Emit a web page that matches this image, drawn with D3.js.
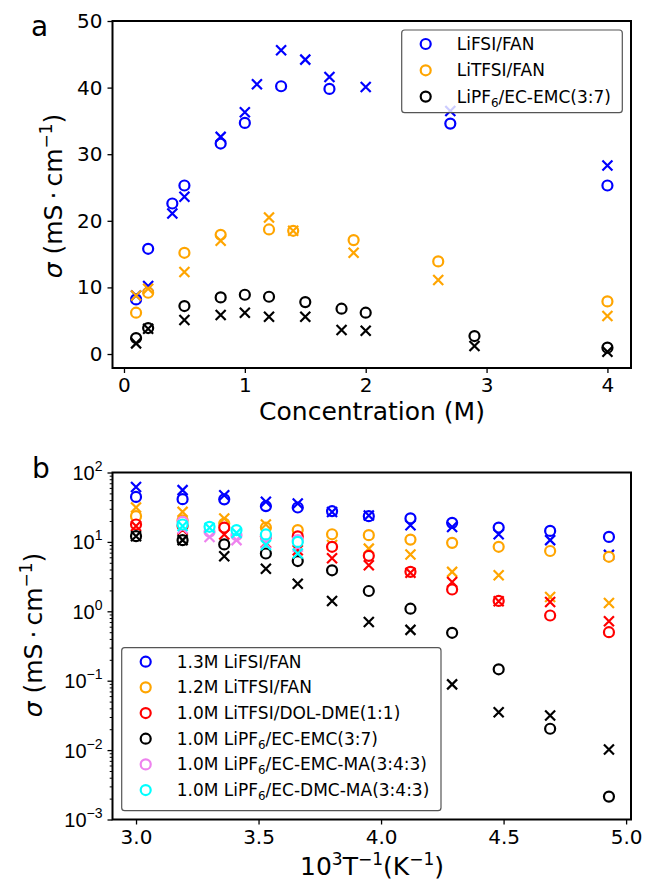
<!DOCTYPE html>
<html>
<head>
<meta charset="utf-8">
<script src="https://cdn.jsdelivr.net/npm/d3@7"></script>
<style>
  body { margin: 0; background: #fff; }
  svg { font-family: "DejaVu Sans", sans-serif; }
</style>
</head>
<body>
<svg id="chart" width="646" height="883"></svg>
<script>
// ---- panel a: conductivity vs concentration ----
const lifsiCircX = [0.1, 0.2, 0.4, 0.5, 0.8, 1.0, 1.3, 1.7, 2.7, 4.0];
const lifsiCircY = [8.2, 15.8, 22.6, 25.3, 31.6, 34.7, 40.2, 39.8, 34.6, 25.3];
const lifsiCrossX = [0.1, 0.2, 0.4, 0.5, 0.8, 1.0, 1.1, 1.3, 1.5, 1.7, 2.0, 2.7, 4.0];
const lifsiCrossY = [8.8, 10.2, 21.1, 23.6, 32.6, 36.3, 40.5, 45.6, 44.2, 41.6, 40.1, 36.5, 28.3];

const litfsiX = [0.1, 0.2, 0.5, 0.8, 1.2, 1.4, 1.9, 2.6, 4.0];
const litfsiCircY = [6.2, 9.2, 15.2, 17.9, 18.7, 18.5, 17.1, 13.9, 7.9];
const litfsiCrossY = [8.8, 9.8, 12.3, 17.0, 20.5, 18.5, 15.2, 11.1, 5.7];

const lipf6X = [0.1, 0.2, 0.5, 0.8, 1.0, 1.2, 1.5, 1.8, 2.0, 2.9, 4.0];
const lipf6CircY = [2.4, 3.9, 7.2, 8.5, 8.9, 8.6, 7.8, 6.8, 6.2, 2.7, 0.95];
const lipf6CrossY = [1.6, 3.8, 5.1, 5.85, 6.2, 5.6, 5.6, 3.6, 3.5, 1.2, 0.35];

const concTicks = [0, 1, 2, 3, 4];
const sigmaTicks = [0, 10, 20, 30, 40, 50];

// ---- panel b: conductivity vs inverse temperature ----
const invT = [3.00, 3.19, 3.36, 3.53, 3.66, 3.80, 3.95, 4.12, 4.29, 4.48, 4.69, 4.93];
const fanLifsiCirc = [44.5, 41.3, 41, 32.7, 31.3, 27.7, 23.5, 21.8, 18.8, 16.1, 14.4, 11.8];
const fanLifsiCross = [62, 55.7, 47, 37.8, 35.8, 27, 24, 17.4, 16.4, 12.9, 10.6, 6.5];
const fanLitfsiCirc = [23.5, 20.5, 18.4, 16.1, 14.8, 12.9, 12.5, 10.8, 9.7, 8.5, 7.4, 6.1];
const fanLitfsiCross = [31.4, 27.1, 21.8, 17.8, 11.5, 9.0, 8.0, 6.6, 3.7, 3.3, 1.61, 1.32];
const dolCirc = [17.8, 17, 16.1, 12, 12, 8.5, 6.3, 3.7, 2.06, 1.41, 0.87, 0.50];
const dolCross = [17, 15, 12.8, 9.7, 7.6, 5.8, 4.6, 3.6, 2.65, 1.4, 1.36, 0.72];
const emcCirc = [12.1, 10.6, 9.2, 6.8, 5.3, 3.9, 1.96, 1.09, 0.49, 0.146, 0.0203, 0.00214];
const emcCross = [12.1, 10.6, 6.2, 4.1, 2.5, 1.41, 0.70, 0.54, 0.0885, 0.035, 0.0316, 0.0102];
const maInvT = [3.19, 3.30, 3.41, 3.53, 3.66];
const emcMaCirc = [19.4, 14, 12.5, 12.0, 10.6];
const emcMaCross = [15.6, 11.8, 10.6, 9.5, 8.5];
const dmcMaCirc = [17.8, 16.5, 14.8, 12.8, 10.0];
const dmcMaCross = [17, 16, 13.5, 9.0, 6.8];

const invTTicks = [3.0, 3.5, 4.0, 4.5, 5.0];
const logTicks = [-3, -2, -1, 0, 1, 2];

const svg = d3.select("#chart");

function circles(g, x, y, xs, ys, color) {
  g.selectAll(null)
    .data(xs.map((d, i) => [d, ys[i]]))
    .enter()
    .append("circle")
    .attr("cx", d => x(d[0]))
    .attr("cy", d => y(d[1]))
    .attr("r", 5)
    .attr("fill", "#fff")
    .attr("stroke", color)
    .attr("stroke-width", 2.2);
}

function crosses(g, x, y, xs, ys, color) {
  const s = 5;
  g.selectAll(null)
    .data(xs.map((d, i) => [d, ys[i]]))
    .enter()
    .append("path")
    .attr("d", d => {
      const cx = x(d[0]), cy = y(d[1]);
      return `M${cx - s},${cy - s}L${cx + s},${cy + s}M${cx - s},${cy + s}L${cx + s},${cy - s}`;
    })
    .attr("fill", "none")
    .attr("stroke", color)
    .attr("stroke-width", 2.2);
}

function styleAxis(g) {
  g.select(".domain").remove();
  g.selectAll(".tick line").attr("stroke", "#000").attr("stroke-width", 1.3);
  g.selectAll(".tick text").attr("font-size", 20).attr("fill", "#000")
    .attr("font-family", "DejaVu Sans");
}

function frame(x0, x1, y0, y1) {
  svg.append("rect")
    .attr("x", x0).attr("y", y0)
    .attr("width", x1 - x0).attr("height", y1 - y0)
    .attr("fill", "none").attr("stroke", "#000").attr("stroke-width", 2);
}

// sigma label with superscript
function sigmaLabel(cx, cy) {
  const t = svg.append("text")
    .attr("transform", `translate(${cx},${cy}) rotate(-90)`)
    .attr("text-anchor", "middle")
    .attr("font-size", 25);
  t.append("tspan").attr("font-style", "italic").text("σ");
  t.append("tspan").text(" (mS\u2009·\u2009cm");
  t.append("tspan").attr("font-size", 17).attr("dy", -10).text("−1");
  t.append("tspan").attr("dy", 10).text(")");
}

function legend(x0, y0, w, h, rows, step, fs) {
  svg.append("rect")
    .attr("x", x0).attr("y", y0).attr("width", w).attr("height", h)
    .attr("rx", 3).attr("fill", "#fff").attr("fill-opacity", 0.8)
    .attr("stroke", "#555").attr("stroke-width", 1.2);
  rows.forEach((r, i) => {
    const cy = y0 + 14 + i * step;
    svg.append("circle").attr("cx", x0 + 24).attr("cy", cy).attr("r", 5)
      .attr("fill", "none").attr("stroke", r.color).attr("stroke-width", 2.2);
    const t = svg.append("text").attr("x", x0 + 55).attr("y", cy + 6).attr("font-size", fs);
    r.parts.forEach(p => {
      const ts = t.append("tspan").text(p.t);
      if (p.sub) ts.attr("font-size", fs * 0.7).attr("dy", 4);
      if (p.back) ts.attr("dy", -4);
    });
  });
}

// ===================== panel a =====================
{
  const x = d3.scaleLinear().domain([-0.095, 4.195]).range([112.5, 631]);
  const y = d3.scaleLinear().domain([-2.1, 50]).range([368, 21]);
  const g = svg.append("g");

  g.append("g").attr("transform", "translate(0,368)")
    .call(d3.axisBottom(x).tickValues(concTicks).tickFormat(d3.format("d")).tickSize(5).tickPadding(5))
    .call(styleAxis);
  g.append("g").attr("transform", "translate(112.5,0)")
    .call(d3.axisLeft(y).tickValues(sigmaTicks).tickFormat(d3.format("d")).tickSize(5).tickPadding(5))
    .call(styleAxis);

  circles(g, x, y, lifsiCircX, lifsiCircY, "#0000ff");
  crosses(g, x, y, lifsiCrossX, lifsiCrossY, "#0000ff");
  circles(g, x, y, litfsiX, litfsiCircY, "#ffa500");
  crosses(g, x, y, litfsiX, litfsiCrossY, "#ffa500");
  circles(g, x, y, lipf6X, lipf6CircY, "#000");
  crosses(g, x, y, lipf6X, lipf6CrossY, "#000");

  frame(112.5, 631, 21, 368);

  svg.append("text").attr("x", 372).attr("y", 420).attr("text-anchor", "middle")
    .attr("font-size", 25).text("Concentration (M)");
  sigmaLabel(62, 196);
  svg.append("text").attr("x", 31).attr("y", 36).attr("font-size", 28).text("a");

  legend(401.7, 30, 220.6, 82.7, [
    { color: "#0000ff", parts: [{ t: "LiFSI/FAN" }] },
    { color: "#ffa500", parts: [{ t: "LiTFSI/FAN" }] },
    { color: "#000", parts: [{ t: "LiPF" }, { t: "6", sub: true }, { t: "/EC-EMC(3:7)", back: true }] }
  ], 26.3, 17);
}

// ===================== panel b =====================
{
  const x = d3.scaleLinear().domain([2.904, 5.02]).range([112.5, 631]);
  const y = d3.scaleLog().domain([1e-3, 1e2]).range([819.5, 472.5]);
  const g = svg.append("g");

  g.append("g").attr("transform", "translate(0,819.5)")
    .call(d3.axisBottom(x).tickValues(invTTicks).tickFormat(d3.format(".1f")).tickSize(5).tickPadding(5))
    .call(styleAxis);

  const minor = [];
  logTicks.slice(0, -1).forEach(e => {
    for (let k = 2; k <= 9; k++) minor.push(k * Math.pow(10, e));
  });
  g.append("g").attr("transform", "translate(112.5,0)")
    .call(d3.axisLeft(y).tickValues(minor).tickFormat("").tickSize(2.8))
    .call(a => { a.select(".domain").remove(); a.selectAll(".tick line").attr("stroke", "#000").attr("stroke-width", 1); });

  const yAx = g.append("g").attr("transform", "translate(112.5,0)")
    .call(d3.axisLeft(y).tickValues(logTicks.map(e => Math.pow(10, e))).tickFormat("").tickSize(5).tickPadding(5))
    .call(styleAxis);
  yAx.selectAll(".tick").each(function (d) {
    const e = Math.round(Math.log10(d));
    const t = d3.select(this).append("text")
      .attr("x", -10).attr("y", 7).attr("text-anchor", "end")
      .attr("font-size", 20).attr("fill", "#000");
    t.append("tspan").text("10");
    t.append("tspan").attr("font-size", 14).attr("dy", -9).text(e < 0 ? "−" + (-e) : String(e));
  });

  circles(g, x, y, invT, fanLifsiCirc, "#0000ff");
  crosses(g, x, y, invT, fanLifsiCross, "#0000ff");
  circles(g, x, y, invT, fanLitfsiCirc, "#ffa500");
  crosses(g, x, y, invT, fanLitfsiCross, "#ffa500");
  circles(g, x, y, invT, dolCirc, "#ff0000");
  crosses(g, x, y, invT, dolCross, "#ff0000");
  circles(g, x, y, invT, emcCirc, "#000");
  crosses(g, x, y, invT, emcCross, "#000");
  circles(g, x, y, maInvT, emcMaCirc, "#ee82ee");
  crosses(g, x, y, maInvT, emcMaCross, "#ee82ee");
  circles(g, x, y, maInvT, dmcMaCirc, "#00ffff");
  crosses(g, x, y, maInvT, dmcMaCross, "#00ffff");

  frame(112.5, 631, 472.5, 819.5);

  const xl = svg.append("text").attr("x", 372).attr("y", 875).attr("text-anchor", "middle").attr("font-size", 25);
  xl.append("tspan").text("10");
  xl.append("tspan").attr("font-size", 17).attr("dy", -10).text("3");
  xl.append("tspan").attr("dy", 10).text("T");
  xl.append("tspan").attr("font-size", 17).attr("dy", -10).text("−1");
  xl.append("tspan").attr("dy", 10).text("(K");
  xl.append("tspan").attr("font-size", 17).attr("dy", -10).text("−1");
  xl.append("tspan").attr("dy", 10).text(")");

  sigmaLabel(42, 635);
  svg.append("text").attr("x", 32).attr("y", 478).attr("font-size", 28).text("b");

  legend(121.7, 647.7, 319.3, 163, [
    { color: "#0000ff", parts: [{ t: "1.3M LiFSI/FAN" }] },
    { color: "#ffa500", parts: [{ t: "1.2M LiTFSI/FAN" }] },
    { color: "#ff0000", parts: [{ t: "1.0M LiTFSI/DOL-DME(1:1)" }] },
    { color: "#000", parts: [{ t: "1.0M LiPF" }, { t: "6", sub: true }, { t: "/EC-EMC(3:7)", back: true }] },
    { color: "#ee82ee", parts: [{ t: "1.0M LiPF" }, { t: "6", sub: true }, { t: "/EC-EMC-MA(3:4:3)", back: true }] },
    { color: "#00ffff", parts: [{ t: "1.0M LiPF" }, { t: "6", sub: true }, { t: "/EC-DMC-MA(3:4:3)", back: true }] }
  ], 25.67, 17);
}
</script>
</body>
</html>
